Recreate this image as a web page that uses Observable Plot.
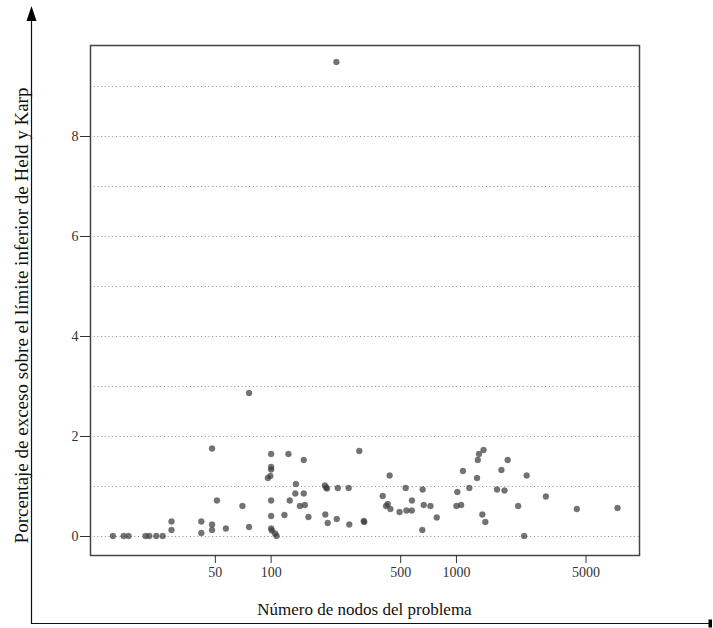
<!DOCTYPE html>
<html>
<head>
<meta charset="utf-8">
<script src="https://cdn.jsdelivr.net/npm/d3@7"></script>
<script src="https://cdn.jsdelivr.net/npm/@observablehq/plot@0.6"></script>
<style>
  html, body { margin: 0; padding: 0; background: #fff; }
  #chart { width: 713px; height: 628px; }
</style>
</head>
<body>
<div id="chart"></div>
<script>
const nodes = [14,16,17,21,22,24,26,29,29,42,42,48,48,48,51,57,70,76,76,96,99,100,100,100,100,100,100,101,105,107,118,124,126,135,136,143,150,150,152,159,195,198,200,196,202,225,226,229,262,264,299,316,318,400,417,426,436,440,493,532,537,574,575,654,657,666,724,783,1000,1011,1060,1084,1173,1291,1304,1323,1379,1400,1432,1655,1748,1817,1889,2152,2319,2392,3038,4461,7397];
const excess = [0.01,0.01,0.01,0.01,0.01,0.01,0.01,0.30,0.13,0.30,0.07,1.76,0.24,0.13,0.72,0.16,0.61,2.87,0.19,1.17,1.21,1.65,1.39,1.34,0.72,0.41,0.16,0.12,0.06,0.01,0.43,1.65,0.72,0.86,1.05,0.61,1.53,0.86,0.63,0.39,1.02,0.98,0.96,0.44,0.27,9.49,0.35,0.97,0.97,0.24,1.71,0.31,0.29,0.81,0.61,0.65,1.22,0.55,0.49,0.97,0.52,0.52,0.72,0.13,0.94,0.63,0.61,0.38,0.61,0.89,0.63,1.31,0.97,1.17,1.53,1.65,0.44,1.73,0.29,0.94,1.33,0.92,1.53,0.61,0.01,1.22,0.80,0.55,0.57];
const xTicks = [50, 100, 500, 1000, 5000];
const yTicks = [0, 2, 4, 6, 8];
const gridLines = [0, 1, 2, 3, 4, 5, 6, 7, 8, 9];
const xLabel = "Número de nodos del problema";
const yLabel = "Porcentaje de exceso sobre el límite inferior de Held y Karp";

const data = nodes.map((n, i) => ({n, e: excess[i]}));
const serif = "'Liberation Serif', 'Times New Roman', serif";

const chart = Plot.plot({
  width: 713,
  height: 628,
  marginLeft: 90,
  marginRight: 74,
  marginTop: 45,
  marginBottom: 73,
  style: {fontFamily: serif, fontSize: "14px", color: "#333", background: "#fff"},
  x: {type: "log", domain: [10.6, 9720]},
  y: {domain: [-0.38, 9.82]},
  marks: [
    Plot.ruleY(gridLines, {stroke: "#8a8a8a", strokeWidth: 1, strokeDasharray: "1,2.7"}),
    Plot.dot(data, {x: "n", y: "e", r: 3, fill: "#383838", fillOpacity: 0.7, stroke: "#555", strokeOpacity: 0.3, strokeWidth: 1}),
    Plot.frame({stroke: "#444", strokeWidth: 1.5}),
    Plot.axisX(xTicks, {ticks: 1000, tickFormat: d => String(d), tickSize: 8, tickPadding: 4, label: null, fontFamily: serif, fontSize: 14}),
    Plot.axisY(yTicks, {tickFormat: d => String(d), tickSize: 10, tickPadding: 2, label: null, fontFamily: serif, fontSize: 14})
  ]
});
document.getElementById("chart").appendChild(chart);

const svg = d3.select(chart);
const ns = svg.append("g").attr("fill", "none");
ns.append("line").attr("x1", 31.5).attr("y1", 624).attr("x2", 31.5).attr("y2", 18).attr("stroke", "#111").attr("stroke-width", 1.2);
svg.append("path").attr("d", "M31.5,6 L26.5,21 L36.5,21 Z").attr("fill", "#000");
ns.append("line").attr("x1", 31).attr("y1", 623.5).attr("x2", 710).attr("y2", 623.5).attr("stroke", "#111").attr("stroke-width", 1.2);
svg.append("rect").attr("x", 708.5).attr("y", 619.5).attr("width", 3.5).attr("height", 8).attr("fill", "#000");
svg.append("text").attr("x", 364.5).attr("y", 615).attr("text-anchor", "middle")
  .attr("font-family", serif).attr("font-size", 17).attr("fill", "#111").text(xLabel);
svg.append("text").attr("transform", "translate(28,315.5) rotate(-90)").attr("text-anchor", "middle")
  .attr("font-family", serif).attr("font-size", 19).attr("fill", "#111").text(yLabel);
</script>
</body>
</html>
